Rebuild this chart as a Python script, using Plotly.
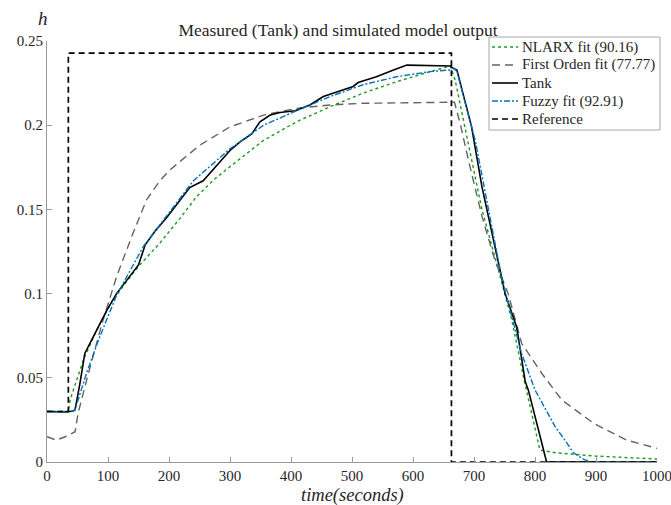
import plotly.graph_objects as go

# Measured tank level
t_tank = [0, 10, 20, 30, 43, 46, 54, 62, 76, 98, 114, 133, 150, 161, 177, 196, 213,
          234, 256, 280, 300, 316, 336, 349, 366, 382, 407, 431, 453, 486, 502, 510,
          540, 568, 590, 661, 666, 672, 696, 713, 732, 751, 770, 784, 789, 819, 1000]
h_tank = [0.0300, 0.0298, 0.0300, 0.0297, 0.0303, 0.0310, 0.0467, 0.0645, 0.0744,
          0.0900, 0.1000, 0.1090, 0.1170, 0.1290, 0.1370, 0.1450, 0.1530, 0.1630,
          0.1670, 0.1770, 0.1850, 0.1900, 0.1950, 0.2020, 0.2060, 0.2075, 0.2086,
          0.2120, 0.2170, 0.2210, 0.2230, 0.2253, 0.2288, 0.2328, 0.2357, 0.2352,
          0.2338, 0.2328, 0.1990, 0.1635, 0.1320, 0.1000, 0.0800, 0.0477, 0.0428,
          0.0, 0.0]

# NLARX model output
t_nlarx = [0, 20, 35, 38, 60, 81, 106, 128, 152, 185, 218, 245, 273, 300, 355, 409,
           464, 518, 573, 628, 661, 669, 691, 713, 740, 762, 781, 800, 808, 833,
           900, 1000]
h_nlarx = [0.0300, 0.0300, 0.0300, 0.0370, 0.0610, 0.0780, 0.0950, 0.1060, 0.1170,
           0.1300, 0.1447, 0.1575, 0.1675, 0.1754, 0.1910, 0.2020, 0.2110, 0.2190,
           0.2258, 0.2318, 0.2352, 0.2270, 0.1890, 0.1500, 0.1140, 0.0843, 0.0507,
           0.0190, 0.0071, 0.0055, 0.0035, 0.0018]

# First order model output
t_first = [0, 15, 30, 46, 51, 65, 90, 114, 139, 163, 185, 200, 250, 300, 355, 409,
           464, 518, 655, 668, 678, 691, 713, 734, 756, 778, 811, 844, 896, 950, 1000]
h_first = [0.0150, 0.0130, 0.0150, 0.0180, 0.0290, 0.0487, 0.0820, 0.1100, 0.1340,
           0.1556, 0.1670, 0.1730, 0.1880, 0.1990, 0.2060, 0.2100, 0.2120, 0.2130,
           0.2136, 0.2136, 0.2000, 0.1790, 0.1460, 0.1200, 0.1000, 0.0705, 0.0527,
           0.0368, 0.0230, 0.0130, 0.0081]

# Fuzzy model output
t_fuzzy = [0, 20, 40, 46, 65, 84, 114, 158, 196, 240, 300, 355, 409, 464, 518, 573,
           628, 661, 666, 672, 702, 723, 745, 762, 778, 800, 833, 849, 863, 880, 892,
           1000]
h_fuzzy = [0.0300, 0.0300, 0.0300, 0.0310, 0.0530, 0.0720, 0.0990, 0.1280, 0.1460,
           0.1670, 0.1860, 0.2000, 0.2086, 0.2170, 0.2240, 0.2288, 0.2318, 0.2328,
           0.2340, 0.2320, 0.1910, 0.1516, 0.1100, 0.0863, 0.0645, 0.0428, 0.0210,
           0.0130, 0.0055, 0.0015, 0.0, 0.0]

# Reference (set point)
t_ref = [0, 35, 35, 663, 663, 1000]
h_ref = [0.030, 0.030, 0.2428, 0.2428, 0.0, 0.0]

x_ticks = [0, 100, 200, 300, 400, 500, 600, 700, 800, 900, 1000]
y_ticks = [0, 0.05, 0.1, 0.15, 0.2, 0.25]
y_tick_text = ["0", "0.05", "0.1", "0.15", "0.2", "0.25"]

SERIF = "Liberation Serif"
AXIS_GRAY = "#9a9a9a"
TEXT = "#262626"

W, H = 671, 505
ML, MR, MT, MB = 47, 14, 41, 43
PW, PH = W - ML - MR, H - MT - MB


def px(x):
    """Pixel column -> paper x."""
    return (x - ML) / PW


def py(y):
    """Pixel row -> paper y."""
    return (H - MB - y) / PH


series = [
    dict(x=t_nlarx, y=h_nlarx, name="NLARX fit (90.16)",
         line=dict(color="#1f9a1f", width=1.4, dash="dot")),
    dict(x=t_first, y=h_first, name="First Orden fit (77.77)",
         line=dict(color="#646464", width=1.4, dash="8px,5px")),
    dict(x=t_tank, y=h_tank, name="Tank",
         line=dict(color="black", width=1.6, dash="solid")),
    dict(x=t_fuzzy, y=h_fuzzy, name="Fuzzy fit (92.91)",
         line=dict(color="#0072BD", width=1.4, dash="6px,2px,2px,2px")),
    dict(x=t_ref, y=h_ref, name="Reference",
         line=dict(color="black", width=1.7, dash="6px,4px")),
]

fig = go.Figure()
for s in series:
    fig.add_trace(go.Scatter(x=s["x"], y=s["y"], mode="lines", name=s["name"],
                             line=s["line"], cliponaxis=False, showlegend=False))

# Legend box drawn in paper coordinates
shapes = [dict(type="rect", xref="paper", yref="paper",
               x0=px(489), x1=px(660), y0=py(130), y1=py(37),
               line=dict(color="#a6a6a6", width=1), fillcolor="white", layer="above")]
annotations = []
row_y = [47, 65, 83, 101, 119]
for s, ry in zip(series, row_y):
    shapes.append(dict(type="line", xref="paper", yref="paper",
                       x0=px(492), x1=px(518), y0=py(ry), y1=py(ry),
                       line=s["line"], layer="above"))
    annotations.append(dict(text=s["name"], x=px(520), y=py(ry), xref="paper", yref="paper",
                            showarrow=False, xanchor="left", yanchor="middle",
                            font=dict(family=SERIF, size=15, color=TEXT)))

annotations += [
    dict(text="<i>h</i>", x=px(43), y=py(18), xref="paper", yref="paper",
         showarrow=False, xanchor="center", yanchor="middle",
         font=dict(family=SERIF, size=19, color=TEXT)),
    dict(text="<i>time(seconds)</i>", x=0.5, y=py(495), xref="paper", yref="paper",
         showarrow=False, xanchor="center", yanchor="middle",
         font=dict(family=SERIF, size=18.5, color=TEXT)),
]

fig.update_layout(
    width=W, height=H,
    margin=dict(l=ML, r=MR, t=MT, b=MB),
    paper_bgcolor="white", plot_bgcolor="white",
    font=dict(family=SERIF, size=15, color=TEXT),
    showlegend=False,
    title=dict(text="Measured (Tank) and simulated model output", x=px(338), xref="paper",
               y=1 - 30 / H, yanchor="middle", xanchor="center",
               font=dict(family=SERIF, size=17.5, color=TEXT)),
    xaxis=dict(range=[0, 1000], tickvals=x_ticks, ticks="inside", ticklen=5,
               tickcolor=AXIS_GRAY, showline=True, linecolor=AXIS_GRAY, linewidth=1,
               showgrid=False, zeroline=False, mirror=False, ticklabeloverflow="allow",
               automargin=False, tickfont=dict(family=SERIF, size=15, color=TEXT)),
    yaxis=dict(range=[0, 0.25], tickvals=y_ticks, ticktext=y_tick_text, ticks="inside",
               ticklen=5, tickcolor=AXIS_GRAY, showline=True, linecolor=AXIS_GRAY,
               linewidth=1, showgrid=False, zeroline=False, mirror=False,
               ticklabeloverflow="allow", automargin=False,
               tickfont=dict(family=SERIF, size=15, color=TEXT)),
    shapes=shapes,
    annotations=annotations,
)

fig.write_html("out.html")
